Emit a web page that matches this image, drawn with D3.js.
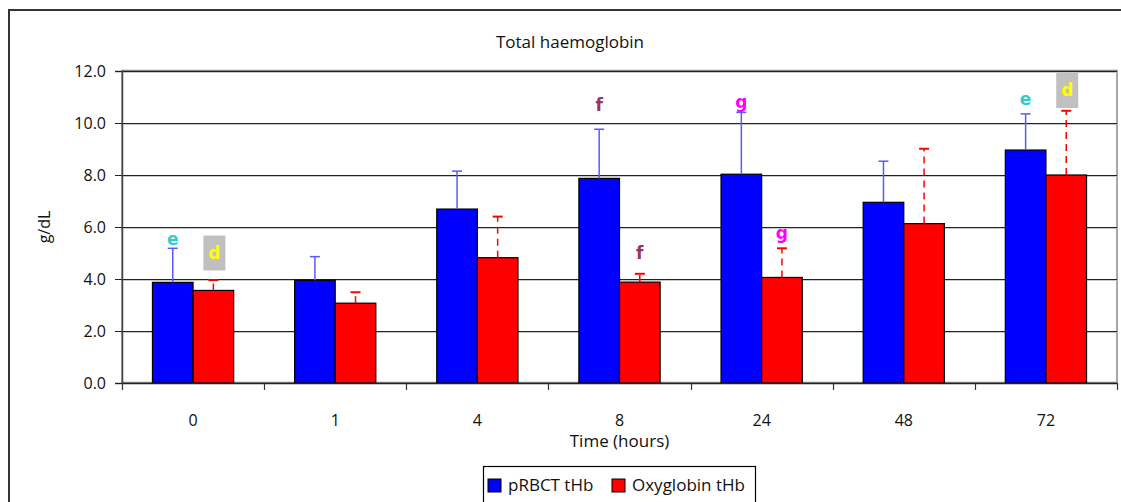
<!DOCTYPE html>
<html>
<head>
<meta charset="utf-8">
<script src="https://cdn.jsdelivr.net/npm/d3@7"></script>
<style>
  html, body { margin: 0; padding: 0; background: #fff; }
  svg { display: block; font-family: "Open Sans", sans-serif; }
</style>
</head>
<body>
<svg id="chart" width="1121" height="502"></svg>
<script>
// Time points (hours) and series
const categories = ["0", "1", "4", "8", "24", "48", "72"];
const seriesNames = ["pRBCT tHb", "Oxyglobin tHb"];

// Mean total haemoglobin (g/dL)
const prbctValues = [3.87, 3.95, 6.69, 7.87, 8.03, 6.95, 8.96];
const oxyValues   = [3.56, 3.07, 4.82, 3.88, 4.06, 6.13, 8.00];

// Upper end of the error bars (g/dL)
const prbctErrTop = [5.18, 4.86, 8.15, 9.76, 10.41, 8.53, 10.35];
const oxyErrTop   = [3.96, 3.49, 6.40, 4.20, 5.18, 9.01, 10.47];

// Significance letters: time point, series index, letter, vertical position (g/dL)
const sigCats    = ["0", "0", "8", "8", "24", "24", "72", "72"];
const sigSeries  = [0, 1, 0, 1, 0, 1, 0, 1];
const sigLetters = ["e", "d", "f", "f", "g", "g", "e", "d"];
const sigLevels  = [5.54, 5.0, 10.69, 5.01, 10.80, 5.75, 10.92, 11.25];

const yTicks = [0, 2, 4, 6, 8, 10, 12];

const FONT = "'Open Sans', sans-serif";
const svg = d3.select("#chart");

// Outer chart border
svg.append("rect")
  .attr("x", 9).attr("y", 10).attr("width", 1130).attr("height", 520)
  .attr("fill", "none").attr("stroke", "#333").attr("stroke-width", 2);

const plot = { left: 122, right: 1117, top: 71, bottom: 383 };

const y = d3.scaleLinear().domain([0, 12]).range([plot.bottom, plot.top]);
const x0 = d3.scaleBand().domain(categories).range([plot.left, plot.right]).paddingInner(0).paddingOuter(0);
const x1 = d3.scaleBand().domain([0, 1]).range([0, x0.bandwidth()]).paddingInner(0).paddingOuter(0.75);

const colors = ["#0000ff", "#ff0000"];
const errColors = ["#5a5aff", "#ff0000"];

// Plot area frame
svg.append("rect")
  .attr("x", plot.left).attr("y", plot.top - 0.5)
  .attr("width", plot.right - plot.left).attr("height", plot.bottom - plot.top)
  .attr("fill", "none").attr("stroke", "#8a8a8a").attr("stroke-width", 1.5);

// Gridlines (with a faint shadow line beneath)
const grid = svg.append("g");
yTicks.filter(d => d > 0).forEach(d => {
  grid.append("line")
    .attr("x1", plot.left).attr("x2", plot.right)
    .attr("y1", Math.round(y(d)) + 1.5).attr("y2", Math.round(y(d)) + 1.5)
    .attr("stroke", "#c8c8c8").attr("stroke-width", 1);
  grid.append("line")
    .attr("x1", plot.left).attr("x2", plot.right)
    .attr("y1", Math.round(y(d)) + 0.5).attr("y2", Math.round(y(d)) + 0.5)
    .attr("stroke", "#222").attr("stroke-width", 1);
});

// Y axis
const yAxis = svg.append("g")
  .attr("transform", `translate(${plot.left},0)`)
  .call(d3.axisLeft(y).tickValues(yTicks).tickFormat(d3.format(".1f")).tickSize(7).tickPadding(9));
yAxis.select(".domain").attr("stroke", "#444").attr("stroke-width", 1.5);
yAxis.selectAll(".tick line").attr("stroke", "#222");
yAxis.selectAll("text").attr("font-size", 16).attr("fill", "#111").attr("font-family", FONT);

// Bars
const bars = svg.append("g");
const seriesVals = [prbctValues, oxyValues];
const seriesErr = [prbctErrTop, oxyErrTop];
categories.forEach((c, i) => {
  [0, 1].forEach(s => {
    bars.append("rect")
      .attr("x", x0(c) + x1(s))
      .attr("y", y(seriesVals[s][i]))
      .attr("width", x1.bandwidth())
      .attr("height", y(0) - y(seriesVals[s][i]))
      .attr("fill", colors[s])
      .attr("stroke", "#000").attr("stroke-width", 1.2);
  });
});

// Error bars (upper only)
const errs = svg.append("g");
categories.forEach((c, i) => {
  [0, 1].forEach(s => {
    const cx = x0(c) + x1(s) + x1.bandwidth() / 2;
    const top = y(seriesErr[s][i]);
    const base = y(seriesVals[s][i]);
    errs.append("line")
      .attr("x1", cx).attr("x2", cx).attr("y1", base).attr("y2", top)
      .attr("stroke", errColors[s]).attr("stroke-width", 1.5)
      .attr("stroke-dasharray", s === 1 ? "7,5" : null);
    errs.append("line")
      .attr("x1", cx - 5).attr("x2", cx + 5).attr("y1", top).attr("y2", top)
      .attr("stroke", errColors[s]).attr("stroke-width", s === 0 ? 1.5 : 2);
  });
});

// X axis line and category boundary ticks
const xAxisG = svg.append("g");
xAxisG.append("line")
  .attr("x1", plot.left).attr("x2", plot.right)
  .attr("y1", plot.bottom + 0.5).attr("y2", plot.bottom + 0.5)
  .attr("stroke", "#222").attr("stroke-width", 1.5);
const bounds = categories.map(c => x0(c)).concat([plot.right]);
bounds.forEach(bx => {
  xAxisG.append("line")
    .attr("x1", Math.round(bx) + 0.5).attr("x2", Math.round(bx) + 0.5)
    .attr("y1", plot.bottom).attr("y2", plot.bottom + 7)
    .attr("stroke", "#333").attr("stroke-width", 1.2);
});
xAxisG.selectAll("text.cat")
  .data(categories)
  .join("text")
  .attr("class", "cat")
  .attr("x", d => x0(d) + x0.bandwidth() / 2)
  .attr("y", 426)
  .attr("text-anchor", "middle")
  .attr("font-size", 16).attr("fill", "#111")
  .text(d => d);

// Significance letters
const sig = svg.append("g");
sigCats.forEach((c, k) => {
  const s = sigSeries[k];
  const cx = x0(c) + x1(s) + x1.bandwidth() / 2;
  const cy = y(sigLevels[k]);
  const letter = sigLetters[k];
  let fill;
  if (letter === "e") fill = "#33cccc";
  else if (letter === "d") fill = "#ffff00";
  else if (letter === "f") fill = "#993366";
  else fill = "#ff00ff";
  if (letter === "d") {
    sig.append("rect")
      .attr("x", cx - 10).attr("y", cy - 17.5)
      .attr("width", 22).attr("height", 35)
      .attr("fill", "#c0c0c0");
  }
  sig.append("text")
    .attr("x", letter === "d" ? cx + 1 : cx).attr("y", cy)
    .attr("dy", "0.35em")
    .attr("text-anchor", "middle")
    .attr("font-size", 17).attr("font-weight", "bold")
    .attr("font-family", "'DejaVu Sans', sans-serif")
    .attr("fill", fill)
    .text(letter);
});

// Titles
svg.append("text")
  .attr("x", 570).attr("y", 48)
  .attr("text-anchor", "middle").attr("font-size", 17).attr("fill", "#111")
  .text("Total haemoglobin");

svg.append("text")
  .attr("x", (plot.left + plot.right) / 2).attr("y", 447)
  .attr("text-anchor", "middle").attr("font-size", 17).attr("fill", "#111")
  .text("Time (hours)");

svg.append("text")
  .attr("transform", `translate(50,${(plot.top + plot.bottom) / 2}) rotate(-90)`)
  .attr("text-anchor", "middle").attr("font-size", 16).attr("fill", "#111")
  .text("g/dL");

// Legend
const legend = svg.append("g");
legend.append("rect")
  .attr("x", 483.5).attr("y", 466.5).attr("width", 272).attr("height", 60)
  .attr("fill", "#fff").attr("stroke", "#000").attr("stroke-width", 1.2);
const legendX = [488, 612];
seriesNames.forEach((name, s) => {
  legend.append("rect")
    .attr("x", legendX[s]).attr("y", 479)
    .attr("width", 13).attr("height", 13)
    .attr("fill", colors[s]).attr("stroke", "#000").attr("stroke-width", 1);
  legend.append("text")
    .attr("x", legendX[s] + 20).attr("y", 491)
    .attr("font-size", 17).attr("fill", "#111")
    .text(name);
});
</script>
</body>
</html>
